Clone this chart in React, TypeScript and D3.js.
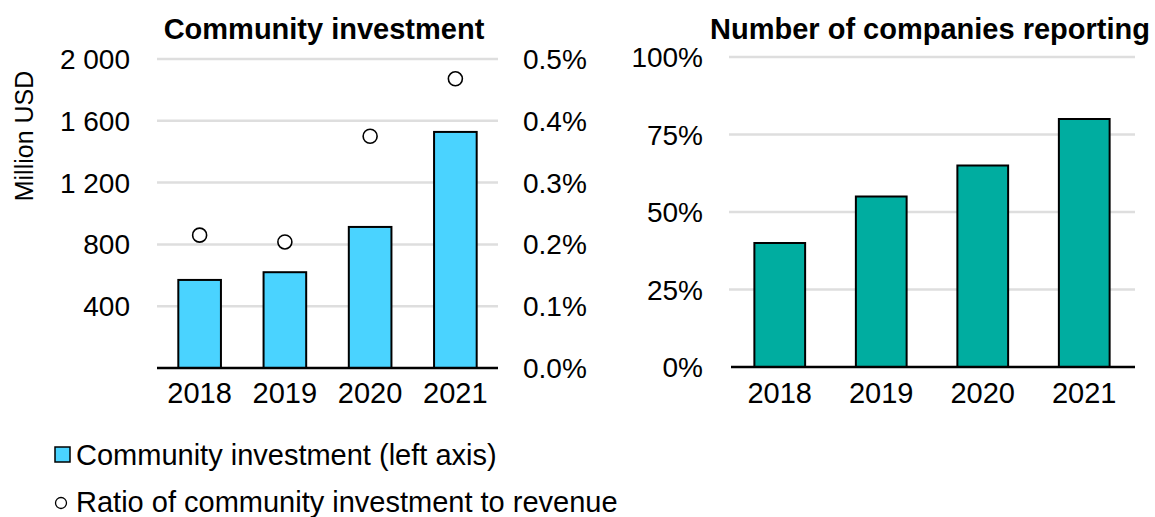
import React from "react";
import * as d3 from "d3";

const years = ["2018", "2019", "2020", "2021"];
const investment = [570, 620, 913, 1528];
const ratio = [0.215, 0.204, 0.375, 0.468];
const reporting = [40, 55, 65, 80];
const leftTicks = [400, 800, 1200, 1600, 2000];
const rightTicks = [0, 0.1, 0.2, 0.3, 0.4, 0.5];
const pctTicks = [0, 25, 50, 75, 100];

const FONT = "'Liberation Sans', Arial, sans-serif";
const BLUE = "#4AD3FF";
const TEAL = "#00ADA0";
const GRID = "#DEDEDE";

export default function App() {
  const fmtLeft = (v: number) => d3.format(",")(v).replace(",", " ");
  const xL = d3.scaleBand<string>().domain(years).range([157, 498]).paddingInner(0.5).paddingOuter(0.25);
  const yL = d3.scaleLinear().domain([0, 2000]).range([368, 59]);
  const yR = d3.scaleLinear().domain([0, 0.5]).range([368, 59]);

  const xC = d3.scaleBand<string>().domain(years).range([729, 1135]).paddingInner(0.5).paddingOuter(0.25);
  const yC = d3.scaleLinear().domain([0, 100]).range([367, 57]);

  return (
    <svg width={1155} height={517} style={{ position: "absolute", left: 0, top: 0, background: "#fff" }} fontFamily={FONT}>
      {/* Left chart */}
      <text x={324} y={39} textAnchor="middle" fontSize={29} fontWeight="bold">Community investment</text>
      {leftTicks.map((t) => (
        <line key={"gl" + t} x1={157} x2={498} y1={yL(t)} y2={yL(t)} stroke={GRID} strokeWidth={2.5} />
      ))}
      {leftTicks.map((t) => (
        <text key={"tl" + t} x={130} y={yL(t)} dy="0.36em" textAnchor="end" fontSize={28}>{fmtLeft(t)}</text>
      ))}
      {rightTicks.map((t) => (
        <text key={"tr" + t} x={523} y={yR(t)} dy="0.36em" textAnchor="start" fontSize={28}>{d3.format(".1f")(t) + "%"}</text>
      ))}
      <text transform={`translate(33,136) rotate(-90)`} textAnchor="middle" fontSize={25}>Million USD</text>
      {years.map((y, i) => (
        <rect key={"b" + y} x={xL(y)} y={yL(investment[i])} width={xL.bandwidth()} height={yL(0) - yL(investment[i])} fill={BLUE} stroke="#000" strokeWidth={2} />
      ))}
      <line x1={157} x2={498} y1={368} y2={368} stroke="#000" strokeWidth={2.5} />
      {years.map((y, i) => (
        <circle key={"c" + y} cx={(xL(y) as number) + xL.bandwidth() / 2} cy={yR(ratio[i])} r={7} fill="#fff" stroke="#000" strokeWidth={1.6} />
      ))}
      {years.map((y) => (
        <text key={"xl" + y} x={(xL(y) as number) + xL.bandwidth() / 2} y={403} textAnchor="middle" fontSize={29}>{y}</text>
      ))}

      {/* Right chart */}
      <text x={930} y={39} textAnchor="middle" fontSize={29} fontWeight="bold">Number of companies reporting</text>
      {pctTicks.filter((t) => t > 0).map((t) => (
        <line key={"gc" + t} x1={729} x2={1135} y1={yC(t)} y2={yC(t)} stroke={GRID} strokeWidth={2.5} />
      ))}
      {pctTicks.map((t) => (
        <text key={"tc" + t} x={703} y={yC(t)} dy="0.36em" textAnchor="end" fontSize={28}>{t + "%"}</text>
      ))}
      {years.map((y, i) => (
        <rect key={"rb" + y} x={xC(y)} y={yC(reporting[i])} width={xC.bandwidth()} height={yC(0) - yC(reporting[i])} fill={TEAL} stroke="#000" strokeWidth={2} />
      ))}
      <line x1={731} x2={1135} y1={367} y2={367} stroke="#000" strokeWidth={2.5} />
      {years.map((y) => (
        <text key={"xc" + y} x={(xC(y) as number) + xC.bandwidth() / 2} y={403} textAnchor="middle" fontSize={29}>{y}</text>
      ))}

      {/* Legend */}
      <rect x={55} y={447} width={15} height={15} fill={BLUE} stroke="#000" strokeWidth={1.5} />
      <text x={76} y={465} fontSize={29}>Community investment (left axis)</text>
      <circle cx={61} cy={503} r={5.5} fill="#fff" stroke="#000" strokeWidth={1.3} />
      <text x={76} y={512} fontSize={29}>Ratio of community investment to revenue</text>
    </svg>
  );
}
